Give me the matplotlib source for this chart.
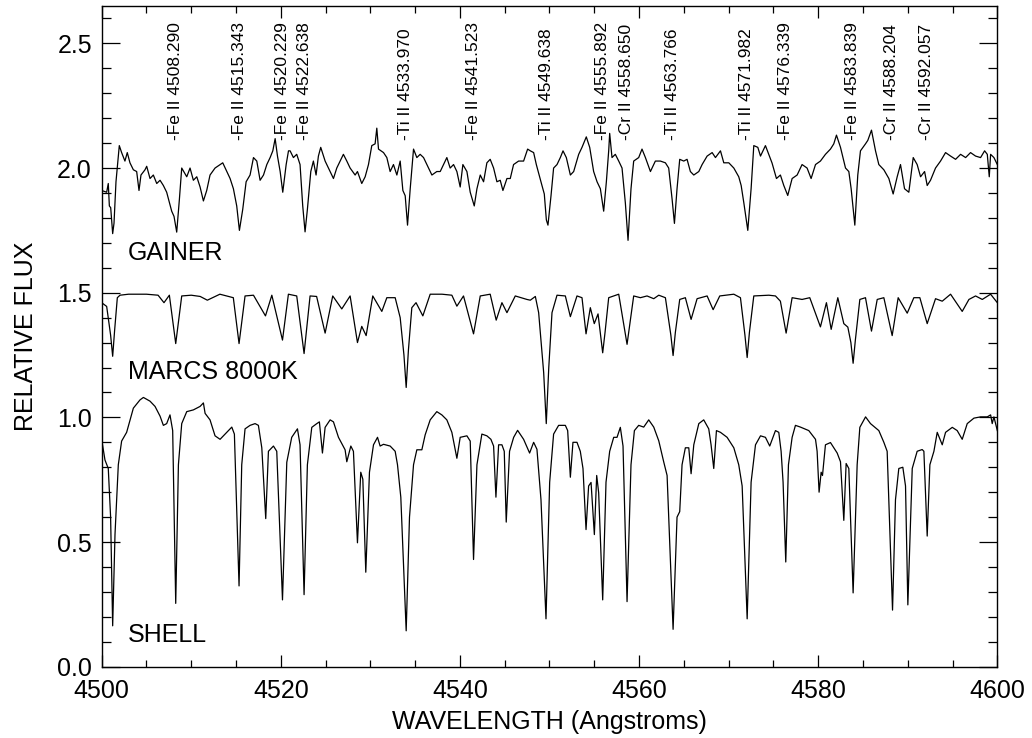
import numpy as np
import matplotlib
matplotlib.use("Agg")
import matplotlib.pyplot as plt
from matplotlib.ticker import MultipleLocator, FormatStrFormatter

plt.rcParams['font.family'] = ['Liberation Sans', 'DejaVu Sans']

# Observed "gainer" spectrum (offset to ~2.0)
gainer_wave = [
    4500.0, 4500.56, 4500.74, 4500.86, 4501.01, 4501.23, 4501.38, 4501.6, 4501.97, 4502.23,
    4502.6, 4502.86, 4503.16, 4503.54, 4503.91, 4504.17, 4504.39, 4504.84, 4505.03, 4505.4,
    4505.77, 4506.15, 4506.52, 4506.89, 4507.26, 4507.82, 4508.08, 4508.38, 4508.68, 4508.94,
    4509.5, 4509.87, 4510.24, 4510.62, 4510.99, 4511.36, 4511.73, 4512.1, 4512.66, 4513.22,
    4513.52, 4513.97, 4514.34, 4514.71, 4515.08, 4515.38, 4515.75, 4516.13, 4516.57, 4516.95,
    4517.32, 4517.69, 4518.07, 4518.44, 4518.81, 4519.11, 4519.37, 4519.63, 4519.93, 4520.22,
    4520.6, 4520.86, 4521.04, 4521.41, 4521.78, 4522.15, 4522.45, 4522.71, 4522.97, 4523.35,
    4523.64, 4523.94, 4524.2, 4524.46, 4524.95, 4525.51, 4525.88, 4526.25, 4526.62, 4526.99,
    4527.37, 4527.74, 4528.3, 4528.56, 4529.04, 4529.42, 4529.79, 4530.16, 4530.53, 4530.72,
    4530.91, 4531.47, 4531.84, 4532.21, 4532.58, 4532.96, 4533.33, 4533.63, 4533.89, 4534.15,
    4534.45, 4534.82, 4535.19, 4535.56, 4535.94, 4536.31, 4536.87, 4537.42, 4537.8, 4538.17,
    4538.54, 4538.91, 4539.29, 4539.66, 4540.03, 4540.33, 4540.78, 4541.15, 4541.6, 4541.9,
    4542.27, 4542.64, 4543.01, 4543.38, 4543.76, 4544.13, 4544.5, 4544.8, 4545.25, 4545.62,
    4545.99, 4546.55, 4547.11, 4547.56, 4547.86, 4548.23, 4548.53, 4548.79, 4549.16, 4549.42,
    4549.65, 4549.83, 4550.17, 4550.46, 4550.84, 4551.21, 4551.51, 4551.88, 4552.33, 4552.7,
    4553.26, 4553.63, 4554.11, 4554.49, 4554.93, 4555.31, 4555.68, 4556.05, 4556.35, 4556.61,
    4556.72, 4556.98, 4557.35, 4557.73, 4558.1, 4558.47, 4558.77, 4559.1, 4559.4, 4559.96,
    4560.33, 4560.71, 4561.27, 4561.82, 4562.38, 4562.94, 4563.31, 4563.69, 4563.95, 4564.24,
    4564.54, 4564.99, 4565.36, 4565.73, 4566.11, 4566.67, 4567.04, 4567.6, 4568.16, 4568.53,
    4569.09, 4569.46, 4570.02, 4570.58, 4571.13, 4571.4, 4571.7, 4572.14, 4572.51, 4572.81,
    4573.26, 4573.56, 4574.11, 4574.48, 4574.85, 4575.34, 4575.78, 4576.16, 4576.6, 4577.09,
    4577.65, 4578.2, 4578.76, 4579.21, 4579.7, 4580.25, 4580.81, 4581.37, 4581.74, 4582.04,
    4582.49, 4583.05, 4583.42, 4583.68, 4584.09, 4584.42, 4584.72, 4585.28, 4585.54, 4585.95,
    4586.4, 4586.77, 4587.33, 4587.89, 4588.37, 4588.82, 4589.19, 4589.64, 4590.12, 4590.61,
    4591.05, 4591.43, 4591.88, 4592.17, 4592.54, 4593.1, 4593.66, 4594.22, 4594.78, 4595.34,
    4595.9, 4596.46, 4597.01, 4597.57, 4598.13, 4598.58, 4598.88, 4599.1, 4599.25, 4599.62,
    4600.0,
]
gainer_flux = [
    1.91, 1.903, 1.938, 1.848, 1.841, 1.737, 1.779, 1.945, 2.09, 2.062,
    2.028, 2.062, 2.021, 1.993, 1.986, 1.91, 1.972, 1.993, 2.007, 1.958,
    1.972, 1.938, 1.951, 1.93, 1.903, 1.827, 1.806, 1.743, 1.875, 2.0,
    1.965, 2.0, 1.951, 1.965, 1.924, 1.868, 1.91, 1.972, 2.0, 2.014,
    2.021, 1.986, 1.958, 1.917, 1.848, 1.75, 1.834, 1.945, 1.972, 2.042,
    2.028, 1.951, 1.972, 2.014, 2.042, 2.069, 2.118, 2.048, 1.986, 1.903,
    2.014, 2.069, 2.069, 2.042, 2.055, 2.014, 1.848, 1.744, 1.834, 1.986,
    2.028, 1.972, 2.048, 2.083, 2.028, 1.986, 1.958, 2.0, 2.028, 2.055,
    2.028, 2.0, 1.972, 1.986, 1.938, 1.965, 2.014, 2.09, 2.097, 2.16,
    2.076, 2.062, 2.042, 1.986, 2.014, 1.972, 2.028, 1.91, 1.889, 1.771,
    1.917, 2.076, 2.042, 2.055, 2.042, 2.014, 1.972, 1.986, 1.986, 2.014,
    2.042, 2.0, 2.014, 1.986, 1.924, 2.014, 1.986, 1.903, 1.848, 1.917,
    1.972, 1.945, 2.021, 2.035, 2.0, 1.945, 1.951, 1.91, 1.958, 1.958,
    2.014, 2.028, 2.028, 2.076, 2.069, 2.062, 2.014, 1.979, 1.93, 1.896,
    1.792, 1.771, 1.889, 2.0, 2.014, 2.042, 2.069, 2.042, 1.972, 1.986,
    2.055, 2.083, 2.125, 2.083, 1.986, 1.945, 1.917, 1.827, 1.945, 2.069,
    2.139, 2.042, 2.055, 2.028, 2.0, 1.86, 1.71, 1.917, 2.028, 2.042,
    2.076, 2.042, 1.986, 2.028, 2.028, 2.021, 2.0, 1.875, 1.778, 1.917,
    2.035, 2.028, 2.035, 1.986, 1.972, 1.986, 2.014, 2.048, 2.062, 2.042,
    2.069, 2.021, 2.021, 2.0, 1.965, 1.93, 1.86, 1.75, 1.917, 2.09,
    2.083, 2.048, 2.09, 2.055, 2.02, 1.958, 1.972, 1.93, 1.89, 1.958,
    1.972, 2.014, 2.0, 1.958, 2.014, 2.028, 2.055, 2.076, 2.097, 2.132,
    2.083, 2.0, 1.986, 1.917, 1.771, 1.972, 2.069, 2.097, 2.111, 2.152,
    2.069, 2.014, 1.993, 1.958, 1.896, 1.965, 2.014, 1.917, 1.903, 2.042,
    2.014, 1.965, 1.986, 1.93, 1.951, 2.0, 2.028, 2.062, 2.048, 2.035,
    2.055, 2.042, 2.062, 2.048, 2.042, 2.069, 2.055, 1.965, 2.055, 2.042,
    2.014,
]

# MARCS 8000K model spectrum (offset to ~1.5)
marcs_wave = [
    4500.0, 4500.56, 4501.0, 4501.23, 4501.45, 4501.75, 4502.05, 4503.0, 4505.0, 4506.3,
    4506.96, 4507.56, 4508.27, 4508.94, 4510.0, 4511.0, 4511.8, 4513.2, 4514.7, 4515.34,
    4516.01, 4516.95, 4518.29, 4519.0, 4520.19, 4520.85, 4521.78, 4522.6, 4523.27, 4524.0,
    4524.95, 4525.8, 4526.81, 4527.74, 4528.56, 4529.04, 4529.53, 4530.27, 4531.28, 4531.84,
    4532.77, 4533.33, 4533.75, 4534.0, 4534.25, 4534.63, 4535.1, 4535.86, 4536.68, 4538.0,
    4539.1, 4539.66, 4540.4, 4541.52, 4542.27, 4543.38, 4544.05, 4544.69, 4545.25, 4546.18,
    4547.48, 4547.86, 4548.42, 4548.79, 4549.35, 4549.64, 4549.92, 4550.28, 4550.84, 4551.77,
    4552.33, 4553.07, 4553.63, 4554.08, 4554.56, 4555.0, 4555.42, 4555.7, 4555.94, 4556.2,
    4556.61, 4557.73, 4558.66, 4559.4, 4560.15, 4560.89, 4561.64, 4562.2, 4562.94, 4563.55,
    4563.8, 4564.05, 4564.54, 4565.17, 4565.81, 4566.48, 4567.6, 4568.27, 4569.01, 4570.58,
    4571.32, 4571.82, 4572.07, 4572.32, 4572.81, 4574.49, 4575.23, 4575.78, 4576.42, 4577.09,
    4578.2, 4579.06, 4580.25, 4580.92, 4581.45, 4582.19, 4582.86, 4583.31, 4583.65, 4583.9,
    4584.15, 4584.65, 4585.28, 4585.95, 4586.59, 4587.33, 4588.26, 4588.93, 4589.94, 4590.68,
    4591.35, 4592.17, 4593.1, 4593.85, 4594.78, 4596.08, 4596.83, 4597.57, 4598.32, 4599.25,
    4600.0,
]
marcs_flux = [
    1.46, 1.445, 1.33, 1.245, 1.35, 1.48, 1.49, 1.494, 1.494, 1.49,
    1.46, 1.49, 1.296, 1.487, 1.49, 1.485, 1.47, 1.494, 1.48, 1.296,
    1.487, 1.49, 1.407, 1.49, 1.31, 1.494, 1.487, 1.256, 1.487, 1.485,
    1.338, 1.487, 1.435, 1.487, 1.30, 1.365, 1.328, 1.487, 1.425, 1.48,
    1.48, 1.40, 1.25, 1.12, 1.27, 1.44, 1.46, 1.407, 1.494, 1.494,
    1.49, 1.446, 1.487, 1.335, 1.487, 1.494, 1.39, 1.46, 1.42, 1.487,
    1.473, 1.47, 1.485, 1.42, 1.18, 0.975, 1.20, 1.42, 1.49, 1.487,
    1.404, 1.487, 1.48, 1.335, 1.44, 1.376, 1.415, 1.33, 1.259, 1.34,
    1.48, 1.494, 1.293, 1.487, 1.48, 1.487, 1.476, 1.49, 1.48, 1.33,
    1.248, 1.34, 1.473, 1.48, 1.393, 1.476, 1.487, 1.432, 1.487, 1.494,
    1.48, 1.33, 1.24, 1.34, 1.487, 1.49, 1.487, 1.466, 1.338, 1.48,
    1.473, 1.48, 1.363, 1.46, 1.353, 1.48, 1.376, 1.362, 1.30, 1.217,
    1.31, 1.473, 1.48, 1.346, 1.473, 1.48, 1.328, 1.48, 1.418, 1.48,
    1.48, 1.376, 1.476, 1.466, 1.494, 1.425, 1.473, 1.487, 1.473, 1.494,
    1.46,
]

# Observed "shell" spectrum (normalised to ~1.0)
shell_wave = [
    4500.0, 4500.37, 4500.74, 4501.0, 4501.23, 4501.49, 4501.86, 4502.23, 4502.79, 4503.54,
    4504.28, 4504.66, 4505.4, 4505.96, 4506.52, 4506.89, 4507.26, 4507.63, 4507.93, 4508.27,
    4508.57, 4508.94, 4509.5, 4510.24, 4510.99, 4511.36, 4511.55, 4512.1, 4512.66, 4513.22,
    4513.97, 4514.53, 4514.82, 4515.34, 4515.64, 4516.01, 4516.57, 4517.13, 4517.5, 4517.88,
    4518.32, 4518.62, 4519.18, 4519.55, 4520.19, 4520.67, 4521.22, 4521.86, 4522.15, 4522.6,
    4522.97, 4523.46, 4524.02, 4524.31, 4524.65, 4524.95, 4525.51, 4525.88, 4526.44, 4527.18,
    4527.37, 4527.82, 4528.11, 4528.56, 4528.93, 4529.16, 4529.49, 4529.9, 4530.35, 4530.8,
    4531.09, 4531.47, 4532.21, 4532.77, 4533.03, 4533.4, 4534.0, 4534.37, 4534.82, 4535.19,
    4535.75, 4536.12, 4536.68, 4537.42, 4537.98, 4538.54, 4539.1, 4539.66, 4540.03, 4540.78,
    4541.15, 4541.52, 4541.9, 4542.45, 4543.01, 4543.46, 4543.76, 4544.02, 4544.32, 4544.69,
    4544.95, 4545.17, 4545.54, 4546.0, 4546.44, 4547.11, 4547.78, 4548.23, 4548.6, 4549.05,
    4549.61, 4550.02, 4550.46, 4551.02, 4551.77, 4552.03, 4552.33, 4552.62, 4553.07, 4553.44,
    4553.74, 4554.08, 4554.37, 4554.64, 4555.01, 4555.27, 4555.49, 4555.94, 4556.31, 4556.72,
    4557.17, 4557.54, 4557.91, 4558.21, 4558.66, 4559.1, 4559.48, 4559.96, 4560.52, 4561.08,
    4561.64, 4562.2, 4562.75, 4563.13, 4563.8, 4564.24, 4564.54, 4564.8, 4565.17, 4565.55,
    4565.81, 4566.11, 4566.67, 4567.22, 4567.78, 4568.04, 4568.34, 4568.64, 4569.09, 4569.83,
    4570.58, 4571.13, 4571.51, 4572.07, 4572.51, 4573.0, 4573.56, 4574.11, 4574.59, 4575.23,
    4575.6, 4575.86, 4576.08, 4576.38, 4576.68, 4577.09, 4577.46, 4578.02, 4578.95, 4579.7,
    4579.88, 4580.1, 4580.33, 4580.48, 4580.81, 4581.37, 4582.12, 4582.49, 4582.86, 4583.12,
    4583.42, 4583.9, 4584.35, 4584.65, 4585.29, 4585.84, 4586.77, 4587.33, 4587.7, 4588.3,
    4588.63, 4589.0, 4589.45, 4589.75, 4590.01, 4590.5, 4591.05, 4591.61, 4591.8, 4592.17,
    4592.47, 4592.92, 4593.29, 4593.85, 4594.22, 4594.97, 4595.52, 4596.08, 4596.64, 4597.39,
    4598.13, 4598.88, 4599.25, 4599.43, 4599.62, 4600.0,
]
shell_flux = [
    0.912, 0.829, 0.795, 0.60, 0.164, 0.53, 0.81, 0.905, 0.94, 1.037,
    1.07, 1.08, 1.065, 1.044, 1.005, 0.968, 0.975, 1.01, 0.947, 0.254,
    0.81, 0.975, 1.023, 1.03, 1.044, 1.058, 1.016, 0.99, 0.926, 0.912,
    0.94, 0.961, 0.933, 0.324, 0.81, 0.954, 0.968, 0.975, 0.968, 0.878,
    0.594, 0.864, 0.885, 0.864, 0.268, 0.82, 0.92, 0.954, 0.89, 0.289,
    0.81, 0.96, 0.975, 0.982, 0.857, 0.96, 0.99, 0.982, 0.92, 0.87,
    0.822, 0.885, 0.864, 0.497, 0.78, 0.752, 0.379, 0.78, 0.89, 0.92,
    0.885, 0.892, 0.885, 0.864, 0.81, 0.68, 0.144, 0.60, 0.81, 0.87,
    0.87, 0.93, 0.99, 1.023, 1.01, 0.99, 0.94, 0.836, 0.92, 0.926,
    0.905, 0.43, 0.81, 0.933, 0.926, 0.912, 0.885, 0.68, 0.89, 0.89,
    0.864, 0.58, 0.864, 0.92, 0.948, 0.912, 0.857, 0.90, 0.872, 0.67,
    0.192, 0.74, 0.933, 0.968, 0.968, 0.947, 0.76, 0.90, 0.90, 0.864,
    0.795, 0.55, 0.725, 0.739, 0.53, 0.767, 0.698, 0.268, 0.74, 0.864,
    0.92, 0.92, 0.96, 0.885, 0.261, 0.81, 0.947, 0.968, 0.961, 0.99,
    0.961, 0.906, 0.822, 0.767, 0.15, 0.60, 0.622, 0.81, 0.878, 0.878,
    0.774, 0.89, 0.975, 0.99, 0.954, 0.89, 0.795, 0.947, 0.94, 0.92,
    0.878, 0.81, 0.725, 0.192, 0.74, 0.89, 0.926, 0.92, 0.885, 0.947,
    0.94, 0.864, 0.74, 0.42, 0.81, 0.92, 0.968, 0.961, 0.947, 0.912,
    0.864, 0.70, 0.78, 0.767, 0.89, 0.899, 0.857, 0.822, 0.587, 0.815,
    0.795, 0.296, 0.81, 0.96, 1.002, 0.975, 0.947, 0.90, 0.864, 0.227,
    0.67, 0.795, 0.80, 0.725, 0.248, 0.795, 0.864, 0.871, 0.864, 0.524,
    0.81, 0.864, 0.94, 0.89, 0.94, 0.96, 0.947, 0.912, 0.975, 0.997,
    1.002, 1.002, 1.01, 0.975, 1.002, 0.947,
]

# Line identifications
line_ions = ['Fe II', 'Fe II', 'Fe II', 'Fe II', 'Ti II', 'Fe II', 'Ti II', 'Fe II',
             'Cr II', 'Ti II', 'Ti II', 'Fe II', 'Fe II', 'Cr II', 'Cr II']
line_waves = [4508.290, 4515.343, 4520.229, 4522.638, 4533.970, 4541.523, 4549.638,
              4555.892, 4558.650, 4563.766, 4571.982, 4576.339, 4583.839, 4588.204,
              4592.057]

# Spectrum names and where they sit
spec_names = ['GAINER', 'MARCS 8000K', 'SHELL']
name_wave = [4502.9, 4502.9, 4502.9]
name_flux = [1.63, 1.153, 0.10]


def plot_spectra(ax):
    """Draw the three spectra as thin black lines."""
    ax.plot(gainer_wave, gainer_flux, color='black', lw=0.9)
    ax.plot(marcs_wave, marcs_flux, color='black', lw=0.9)
    ax.plot(shell_wave, shell_flux, color='black', lw=0.9)


def label_lines(ax):
    """Write the line identifications vertically above the spectra."""
    for ion, wl in zip(line_ions, line_waves):
        ax.text(wl, 2.113, f"-{ion} {wl:.3f}", rotation=90, ha='center', va='bottom',
                fontsize=12.5)
    for name, x, y in zip(spec_names, name_wave, name_flux):
        ax.text(x, y, name, fontsize=18, ha='left', va='baseline')


def style_axes(ax):
    """IDL-like axes: ticks inside on all four sides."""
    ax.set_xlim(4500, 4600)
    ax.set_ylim(0.0, 2.65)
    ax.xaxis.set_major_locator(MultipleLocator(20))
    ax.xaxis.set_minor_locator(MultipleLocator(5))
    ax.yaxis.set_major_locator(MultipleLocator(0.5))
    ax.yaxis.set_minor_locator(MultipleLocator(0.1))
    ax.yaxis.set_major_formatter(FormatStrFormatter('%.1f'))
    ax.tick_params(which='both', direction='in', top=True, right=True, width=0.9)
    ax.tick_params(axis='x', which='major', length=8.6, pad=9, labelsize=18)
    ax.tick_params(axis='x', which='minor', length=5)
    ax.tick_params(axis='y', which='major', length=13, pad=7, labelsize=18)
    ax.tick_params(axis='y', which='minor', length=6.5)
    for sp in ax.spines.values():
        sp.set_linewidth(1.0)
    ax.set_xlabel('WAVELENGTH (Angstroms)', fontsize=18, labelpad=5)
    ax.set_ylabel('RELATIVE FLUX', fontsize=18, labelpad=14)


def main():
    fig = plt.figure(figsize=(10.32, 7.38), dpi=100)
    ax = fig.add_axes([0.0985, 0.0966, 0.8679, 0.8953])
    plot_spectra(ax)
    label_lines(ax)
    style_axes(ax)
    fig.savefig('out.png', dpi=100)


if __name__ == "__main__":
    main()
